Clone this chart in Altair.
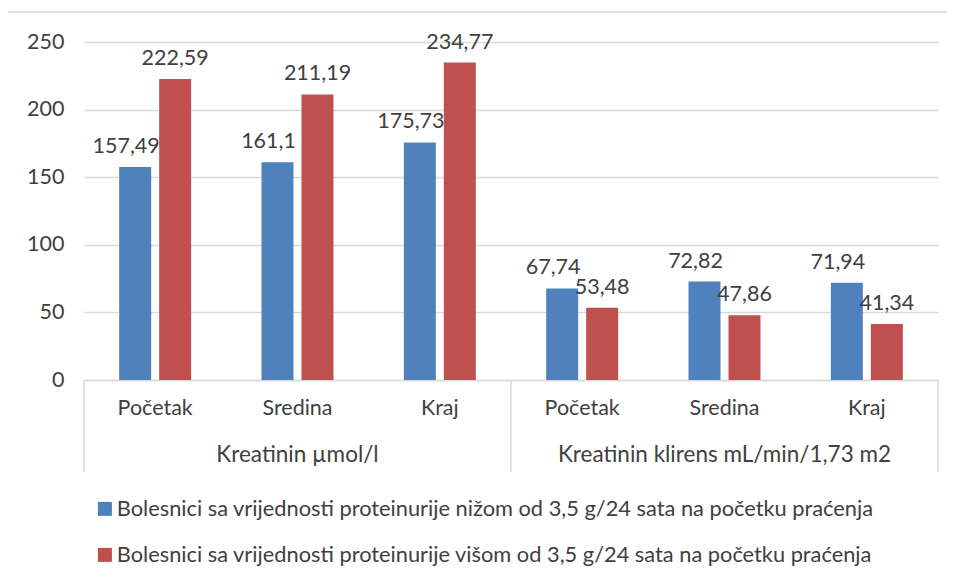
import altair as alt
import pandas as pd

groups = ["Kreatinin µmol/l", "Kreatinin klirens mL/min/1,73 m2"]
subs = ["Početak", "Sredina", "Kraj"]
series = [
    "Bolesnici sa vrijednosti proteinurije nižom od 3,5 g/24 sata na početku praćenja",
    "Bolesnici sa vrijednosti proteinurije višom od 3,5 g/24 sata na početku praćenja",
]
low_values = [157.49, 161.1, 175.73, 67.74, 72.82, 71.94]
high_values = [222.59, 211.19, 234.77, 53.48, 47.86, 41.34]
colors = ["#4F81BD", "#C0504D"]
y_ticks = [0, 50, 100, 150, 200, 250]

FONT = "Lato"
TXT = "#404040"
W, H = 854, 338

keys = [f"{g}|{s}" for g in groups for s in subs]
rows = []
for i, k in enumerate(keys):
    for sname, vals in zip(series, [low_values, high_values]):
        v = vals[i]
        rows.append({"key": k, "series": sname, "value": v,
                     "label": f"{v:g}".replace(".", ",")})
df = pd.DataFrame(rows)

xscale = alt.Scale(domain=keys, paddingInner=0, paddingOuter=0)
xoff_scale = alt.Scale(domain=series, paddingInner=0.2, paddingOuter=0.88)
yscale = alt.Scale(domain=[0, 250], nice=False)
cscale = alt.Scale(domain=series, range=colors)

base = alt.Chart(df)

border = alt.Chart(pd.DataFrame({"a": [0]})).mark_rect(
    fill="transparent", stroke="#D9D9D9", strokeWidth=1.5
).encode(
    x=alt.value(-77), x2=alt.value(W + 40), y=alt.value(-30), y2=alt.value(H + 260)
)

bars = base.mark_bar().encode(
    x=alt.X("key:N", scale=xscale, sort=keys, title=None,
            axis=alt.Axis(labelExpr="split(datum.label, '|')[1]", ticks=False,
                          domainColor="#D9D9D9", domainWidth=1.5, labelAngle=0,
                          labelFont=FONT, labelFontSize=21.5, labelColor=TXT,
                          labelPadding=17, grid=False)),
    xOffset=alt.XOffset("series:N", scale=xoff_scale, sort=series),
    y=alt.Y("value:Q", scale=yscale, title=None,
            axis=alt.Axis(values=y_ticks, ticks=False, domain=False,
                          gridColor="#D9D9D9", gridWidth=1.5,
                          labelFont=FONT, labelFontSize=21.5, labelColor=TXT,
                          labelPadding=20)),
    color=alt.Color("series:N", scale=cscale, sort=series, title=None,
                    legend=alt.Legend(orient="none", legendX=10, legendY=456,
                                      direction="vertical", symbolType="square",
                                      symbolSize=196, symbolStrokeWidth=0,
                                      labelFont=FONT, labelFontSize=21.8,
                                      labelColor=TXT, labelLimit=0, labelOffset=1,
                                      rowPadding=23, padding=0)),
)

def labels(sname, dx):
    return base.transform_filter(alt.datum.series == sname).mark_text(
        font=FONT, fontSize=21.5, color=TXT, baseline="alphabetic", dy=-14, dx=dx
    ).encode(
        x=alt.X("key:N", scale=xscale, sort=keys),
        xOffset=alt.XOffset("series:N", scale=xoff_scale, sort=series),
        y=alt.Y("value:Q", scale=yscale),
        text="label:N",
    )

gdf = pd.DataFrame({"group": groups, "key": [f"{g}|{subs[1]}" for g in groups],
                    "first": [f"{g}|{subs[0]}" for g in groups]})
group_text = alt.Chart(gdf).mark_text(
    font=FONT, fontSize=22.5, color=TXT, baseline="middle"
).encode(
    x=alt.X("key:N", scale=xscale, sort=keys),
    y=alt.value(H + 75),
    text="group:N",
)
dividers = alt.Chart(gdf).mark_rule(color="#D9D9D9", strokeWidth=1.5).encode(
    x=alt.X("first:N", scale=xscale, sort=keys, bandPosition=0),
    y=alt.value(H), y2=alt.value(H + 92),
)
right_div = alt.Chart(pd.DataFrame({"a": [0]})).mark_rule(
    color="#D9D9D9", strokeWidth=1.5
).encode(x=alt.value(W), y=alt.value(H), y2=alt.value(H + 92))

chart = alt.layer(
    border, bars, labels(series[0], -9), labels(series[1], 0),
    group_text, dividers, right_div
).properties(
    width=W, height=H,
    autosize=alt.AutoSizeParams(type="none"),
    padding={"left": 76, "top": 34, "right": 9, "bottom": 191},
    background="white",
).configure_view(stroke=None)

chart.save("out.html", embed_options={"renderer": "svg", "actions": False})
